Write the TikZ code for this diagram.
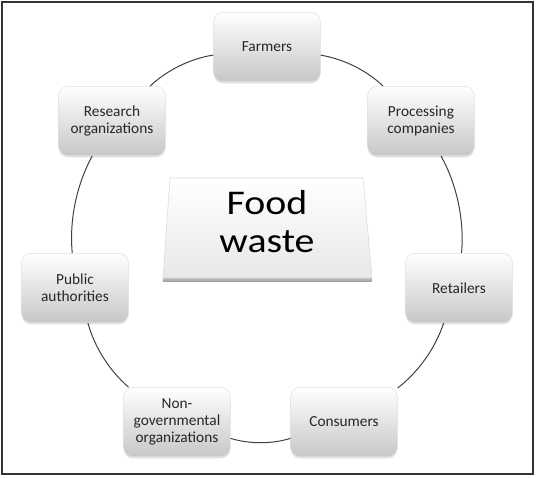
\documentclass[tikz,border=0pt]{standalone}
\usepackage{fontspec}
\setmainfont{Carlito}
\usepackage{tikz}
\usetikzlibrary{shadows}

\begin{document}
\begin{tikzpicture}[x=0.75pt, y=0.75pt,
  actor/.style={rounded corners=7pt, minimum width=80pt, minimum height=52pt,
    top color=white, bottom color=black!22, draw=black!12, align=center,
    text=black!85, font=\fontsize{11.5}{12.8}\selectfont,
    drop shadow={shadow xshift=0pt, shadow yshift=-1.2pt, fill=black!25}},
  ring/.style={line width=0.75pt, draw=black!75, bend left=17, looseness=0.85}]
\useasboundingbox (-267,-234) rectangle (269,244);
\draw[line width=1.5pt, black!80] (-265,242) rectangle (266,-230);

% centre slab
\shade[top color=black!25, bottom color=black!40] (-104,-34) -- (105,-34) -- (105,-38) -- (-104,-38) -- cycle;
\shade[top color=white, bottom color=black!9, draw=black!15] (-97,66) -- (96,66) -- (105,-34) -- (-104,-34) -- cycle;
\node[align=center, font=\fontsize{26}{28.5}\selectfont, xscale=1.15, transform shape] (food) at (0,22) {Food\\waste};

% stakeholders
\node[actor] (farmers) at (0,197) {Farmers};
\node[actor] (proc) at (154,123) {Processing\\companies};
\node[actor] (retail) at (192,-44) {Retailers};
\node[actor] (cons) at (77,-178) {Consumers};
\node[actor] (ngo) at (-90,-178) {Non-\\governmental\\organizations};
\node[actor] (public) at (-192,-44) {Public\\authorities};
\node[actor] (research) at (-155,123) {Research\\organizations};

\draw[ring] (farmers) to (proc);
\draw[ring] (proc) to (retail);
\draw[ring] (retail) to (cons);
\draw[ring] (cons) to (ngo);
\draw[ring] (ngo) to (public);
\draw[ring] (public) to (research);
\draw[ring] (research) to (farmers);

\end{tikzpicture}
\end{document}
